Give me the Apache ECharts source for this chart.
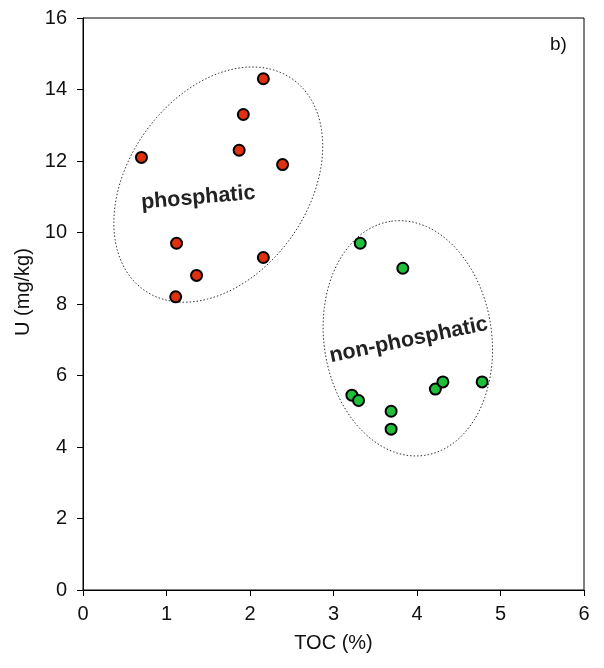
<!DOCTYPE html>
<html lang="en">
<head>
  <meta charset="UTF-8">
  <title>U vs TOC</title>
  <style>
    html, body {
      height: 100%;
      width: 100%;
      margin: 0;
      padding: 0;
      background: #fff;
    }
  </style>
  <script src="https://cdn.jsdelivr.net/npm/echarts@6/dist/echarts.min.js"></script>
</head>
<body>
<div id="main" style="width: 604px; height: 668px;"></div>

<script>
  // TOC (%) vs U (mg/kg)
  var phosphatic = [
    [0.70, 12.1], [1.12, 9.7], [1.36, 8.8], [1.11, 8.2], [1.87, 12.3],
    [1.92, 13.3], [2.16, 14.3], [2.39, 11.9], [2.16, 9.3]
  ];
  var nonPhosphatic = [
    [3.32, 9.7], [3.83, 9.0], [3.22, 5.45], [3.30, 5.3], [3.69, 5.0],
    [3.69, 4.5], [4.22, 5.62], [4.31, 5.82], [4.78, 5.82]
  ];
  // group outlines: centre x, centre y, semi-major, semi-minor (x units), tilt from vertical (deg)
  var groupEllipses = [
    [1.62, 11.34, 1.545, 1.078, 35],
    [3.89, 7.04, 1.416, 1.005, -8]
  ];
  // group names: text, x, y, angle (deg)
  var groupNames = [
    ['phosphatic', 1.38, 10.97, 5],
    ['non-phosphatic', 3.90, 6.99, 11.7]
  ];

  var font = 'Liberation Sans, Arial, sans-serif';
  var chart = echarts.init(document.getElementById('main'));

  var option = {
    animation: false,
    backgroundColor: '#fff',
    grid: {
      left: 83, right: 20, top: 18, bottom: 78,
      show: true, borderColor: '#000', borderWidth: 1
    },
    xAxis: {
      type: 'value', min: 0, max: 6, interval: 1,
      name: 'TOC (%)', nameLocation: 'middle', nameGap: 43,
      nameTextStyle: { fontSize: 20, color: '#111', fontFamily: font },
      axisLine: { lineStyle: { color: '#000' } },
      axisTick: { length: 6, lineStyle: { color: '#000' } },
      axisLabel: { fontSize: 20, color: '#111', fontFamily: font, margin: 14 },
      splitLine: { show: false }
    },
    yAxis: {
      type: 'value', min: 0, max: 16, interval: 2,
      name: 'U (mg/kg)', nameLocation: 'middle', nameGap: 46,
      nameTextStyle: { fontSize: 20, color: '#111', fontFamily: font, padding: [0, 0, 0, 24] },
      axisLine: { show: true, lineStyle: { color: '#000' } },
      axisTick: { show: true, length: 6, lineStyle: { color: '#000' } },
      axisLabel: { fontSize: 20, color: '#111', fontFamily: font, margin: 16 },
      splitLine: { show: false }
    },
    graphic: [{
      type: 'text', left: 550, top: 35,
      style: { text: 'b)', fontSize: 19, fill: '#111', fontFamily: font }
    }],
    series: [
      {
        type: 'custom',
        data: groupEllipses,
        silent: true,
        z: 1,
        renderItem: function (params, api) {
          var c = api.coord([api.value(0), api.value(1)]);
          var unit = api.size([1, 1])[0];
          var a = api.value(2) * unit, b = api.value(3) * unit;
          var th = api.value(4) * Math.PI / 180;
          var u = [Math.sin(th), -Math.cos(th)], v = [Math.cos(th), Math.sin(th)];
          var pts = [];
          for (var i = 0; i < 120; i++) {
            var t = i / 120 * Math.PI * 2;
            pts.push([
              c[0] + a * Math.cos(t) * u[0] + b * Math.sin(t) * v[0],
              c[1] + a * Math.cos(t) * u[1] + b * Math.sin(t) * v[1]
            ]);
          }
          return {
            type: 'polygon',
            shape: { points: pts },
            style: { fill: 'none', stroke: '#333', lineWidth: 1, lineDash: [1.5, 2] }
          };
        }
      },
      {
        type: 'custom',
        data: groupNames.map(function (d) { return [d[1], d[2], d[3]]; }),
        silent: true,
        z: 2,
        renderItem: function (params, api) {
          var c = api.coord([api.value(0), api.value(1)]);
          return {
            type: 'text',
            x: c[0], y: c[1],
            rotation: api.value(2) * Math.PI / 180,
            style: {
              text: groupNames[params.dataIndex][0],
              fontSize: 21.5, fontWeight: 'bold', fontFamily: font,
              fill: '#222', align: 'center', verticalAlign: 'middle'
            }
          };
        }
      },
      {
        type: 'scatter',
        data: phosphatic,
        symbolSize: 11,
        z: 3,
        itemStyle: { color: '#e0300f', borderColor: '#000', borderWidth: 2, opacity: 1 }
      },
      {
        type: 'scatter',
        data: nonPhosphatic,
        symbolSize: 11,
        z: 3,
        itemStyle: { color: '#1fbf3a', borderColor: '#000', borderWidth: 2, opacity: 1 }
      }
    ]
  };
  chart.setOption(option);
</script>
</body>
</html>
